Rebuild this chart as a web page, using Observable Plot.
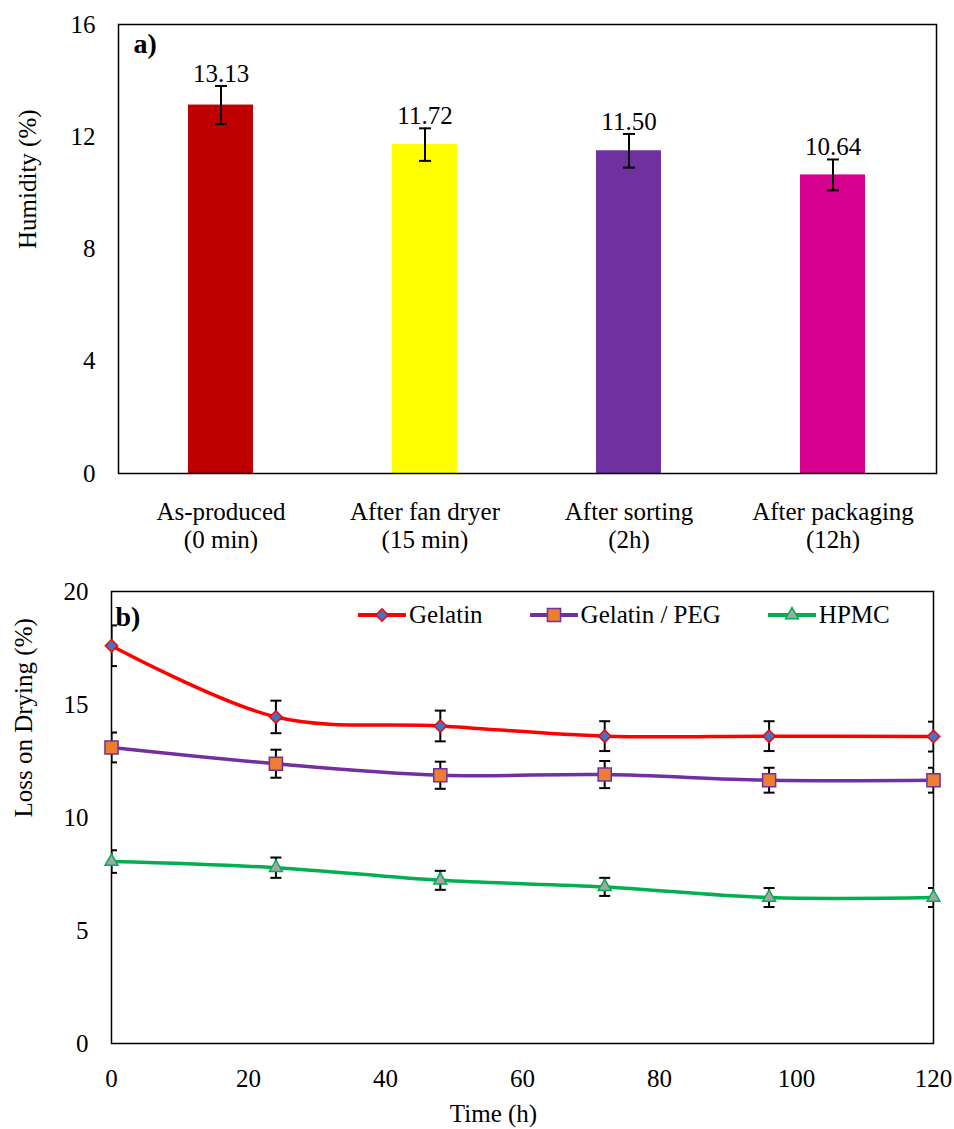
<!DOCTYPE html>
<html><head><meta charset="utf-8">
<script src="https://cdn.jsdelivr.net/npm/d3@7"></script>
<script src="https://cdn.jsdelivr.net/npm/@observablehq/plot@0.6"></script>
<style>
body{margin:0;background:#fff;}
#wrap{width:954px;position:relative;font-family:"Liberation Serif","Times New Roman",Times,"DejaVu Serif",serif;color:#000;}
#b{position:relative;}
#legend{position:absolute;left:358px;top:46px;display:flex;gap:47px;font-size:25px;align-items:center;line-height:28px;}
.item{display:flex;align-items:center;gap:3px;}
svg{display:block;}
svg text{font-family:"Liberation Serif","Times New Roman",Times,"DejaVu Serif",serif;}
</style></head><body>
<div id="wrap"><div id="a"></div><div id="b"><div id="legend"></div></div></div>
<script>
// ---- Panel a data ----
const categories = ["As-produced\n(0 min)", "After fan dryer\n(15 min)", "After sorting\n(2h)", "After packaging\n(12h)"];
const humidity = [13.13, 11.72, 11.50, 10.64];
const humidityErr = [0.68, 0.58, 0.60, 0.55];
const barColors = ["#C00000", "#FFFF00", "#7030A0", "#D6008F"];
const yTicksA = [0, 4, 8, 12, 16];

// ---- Panel b data ----
const times = [0, 24, 48, 72, 96, 120];
const gelatin = [17.6, 14.45, 14.05, 13.6, 13.6, 13.58];
const gelatinErr = [0.9, 0.72, 0.68, 0.66, 0.66, 0.66];
const gelatinPeg = [13.1, 12.38, 11.87, 11.9, 11.65, 11.65];
const gelatinPegErr = [0.66, 0.62, 0.6, 0.6, 0.55, 0.55];
const hpmc = [8.05, 7.78, 7.22, 6.93, 6.46, 6.46];
const hpmcErr = [0.5, 0.45, 0.42, 0.4, 0.42, 0.42];
const seriesNames = ["Gelatin", "Gelatin / PEG", "HPMC"];
const xTicksB = [0, 20, 40, 60, 80, 100, 120];
const yTicksB = [0, 5, 10, 15, 20];

const fam = "'Liberation Serif', 'Times New Roman', Times, 'DejaVu Serif', serif";
const font = {fontFamily: fam, fontSize: "25px", color: "#000", background: "transparent"};
const cap = {draw(ctx, size) { const w = Math.sqrt(size / Math.PI); ctx.moveTo(-w, 0); ctx.lineTo(w, 0); }};

// ---- Panel a ----
const rowsA = categories.map((c, i) => ({cat: c, v: humidity[i], e: humidityErr[i]}));
const plotA = Plot.plot({
  width: 954, height: 555,
  marginLeft: 118, marginRight: 18, marginTop: 24, marginBottom: 82,
  style: font,
  x: {domain: categories, paddingInner: 0.68, paddingOuter: 0.34, axis: null},
  y: {domain: [0, 16], axis: null},
  color: {domain: categories, range: barColors},
  marks: [
    Plot.barY(rowsA, {x: "cat", y: "v", fill: "cat"}),
    Plot.ruleX(rowsA, {x: "cat", y1: d => d.v - d.e, y2: d => d.v + d.e, stroke: "#000", strokeWidth: 2}),
    Plot.dot(rowsA, {x: "cat", y: d => d.v + d.e, symbol: cap, r: 6, fill: "none", stroke: "#000", strokeWidth: 2}),
    Plot.dot(rowsA, {x: "cat", y: d => d.v - d.e, symbol: cap, r: 6, fill: "none", stroke: "#000", strokeWidth: 2}),
    Plot.text(rowsA, {x: "cat", y: d => d.v + d.e, text: d => d.v.toFixed(2), lineAnchor: "bottom", dy: -4, fontSize: 25}),
    Plot.text(categories, {x: d => d, frameAnchor: "bottom", text: d => d, lineAnchor: "top", dy: 27, lineHeight: 1.12, fontSize: 25}),
    Plot.axisY({ticks: yTicksA, tickSize: 0, tickPadding: 23, label: null, tickFormat: d => String(d), fontSize: 25}),
    Plot.frame({stroke: "#000", strokeWidth: 1.5}),
    Plot.text(["Humidity (%)"], {frameAnchor: "left", text: d => d, rotate: -90, dx: -91, fontSize: 25}),
    Plot.text(["a)"], {frameAnchor: "top-left", text: d => d, dx: 15, dy: 9, fontSize: 28, fontWeight: "bold", lineAnchor: "top"})
  ]
});
document.getElementById("a").appendChild(plotA);

// ---- Panel b ----
const seriesDefs = [
  {name: seriesNames[0], vals: gelatin, errs: gelatinErr, line: "#FF0000", fill: "#4472C4", stroke: "#FF0000", symbol: "diamond2", r: 5.6, d3sym: d3.symbolDiamond2},
  {name: seriesNames[1], vals: gelatinPeg, errs: gelatinPegErr, line: "#7030A0", fill: "#ED7D31", stroke: "#7030A0", symbol: "square", r: 7.4, d3sym: d3.symbolSquare},
  {name: seriesNames[2], vals: hpmc, errs: hpmcErr, line: "#00B050", fill: "#A5A5A5", stroke: "#00B050", symbol: "triangle", r: 4.8, d3sym: d3.symbolTriangle}
];
const marksB = [Plot.frame({stroke: "#000", strokeWidth: 1.5})];
const seriesRows = seriesDefs.map(s => times.map((t, i) => ({t, v: s.vals[i], e: s.errs[i]})));
seriesDefs.forEach((s, k) => {
  marksB.push(Plot.line(seriesRows[k], {x: "t", y: "v", stroke: s.line, strokeWidth: 3.5, curve: "catmull-rom"}));
});
seriesDefs.forEach((s, k) => {
  const rows = seriesRows[k];
  marksB.push(Plot.ruleX(rows, {x: "t", y1: d => d.v - d.e, y2: d => d.v + d.e, stroke: "#000", strokeWidth: 2, clip: true}));
  marksB.push(Plot.dot(rows, {x: "t", y: d => d.v + d.e, symbol: cap, r: 5.5, fill: "none", stroke: "#000", strokeWidth: 2, clip: true}));
  marksB.push(Plot.dot(rows, {x: "t", y: d => d.v - d.e, symbol: cap, r: 5.5, fill: "none", stroke: "#000", strokeWidth: 2, clip: true}));
});
seriesDefs.forEach((s, k) => {
  marksB.push(Plot.dot(seriesRows[k], {x: "t", y: "v", symbol: s.symbol, r: s.r, fill: s.fill, stroke: s.stroke, strokeWidth: 1.5}));
});
marksB.push(
  Plot.axisX({ticks: xTicksB, tickSize: 0, tickPadding: 26, label: null, tickFormat: d => String(d), fontSize: 25}),
  Plot.axisY({ticks: yTicksB, tickSize: 0, tickPadding: 23, label: null, tickFormat: d => String(d), fontSize: 25}),
  Plot.text(["Loss on Drying (%)"], {frameAnchor: "left", text: d => d, rotate: -90, dx: -88, fontSize: 25}),
  Plot.text(["Time (h)"], {frameAnchor: "bottom", text: d => d, dx: -29, dy: 70, lineAnchor: "middle", fontSize: 25}),
  Plot.text(["b)"], {frameAnchor: "top-left", text: d => d, dx: 4, dy: 15, fontSize: 28, fontWeight: "bold", lineAnchor: "top"})
);
const plotB = Plot.plot({
  width: 954, height: 574,
  marginLeft: 111, marginRight: 21, marginTop: 36, marginBottom: 86,
  style: font,
  x: {domain: [0, 120]},
  y: {domain: [0, 20]},
  marks: marksB
});
document.getElementById("b").insertBefore(plotB, document.getElementById("legend"));

// ---- Legend (panel b) ----
const legend = d3.select("#legend");
seriesDefs.forEach(s => {
  const item = legend.append("div").attr("class", "item");
  const svg = item.append("svg").attr("width", 48).attr("height", 20);
  svg.append("line").attr("x1", 0).attr("x2", 48).attr("y1", 10).attr("y2", 10).attr("stroke", s.line).attr("stroke-width", 4);
  svg.append("path").attr("transform", "translate(24,10)")
    .attr("d", d3.symbol(s.d3sym, s.r * s.r * Math.PI)())
    .attr("fill", s.fill).attr("stroke", s.stroke).attr("stroke-width", 1.5);
  item.append("span").text(s.name);
});
</script>
</body></html>
